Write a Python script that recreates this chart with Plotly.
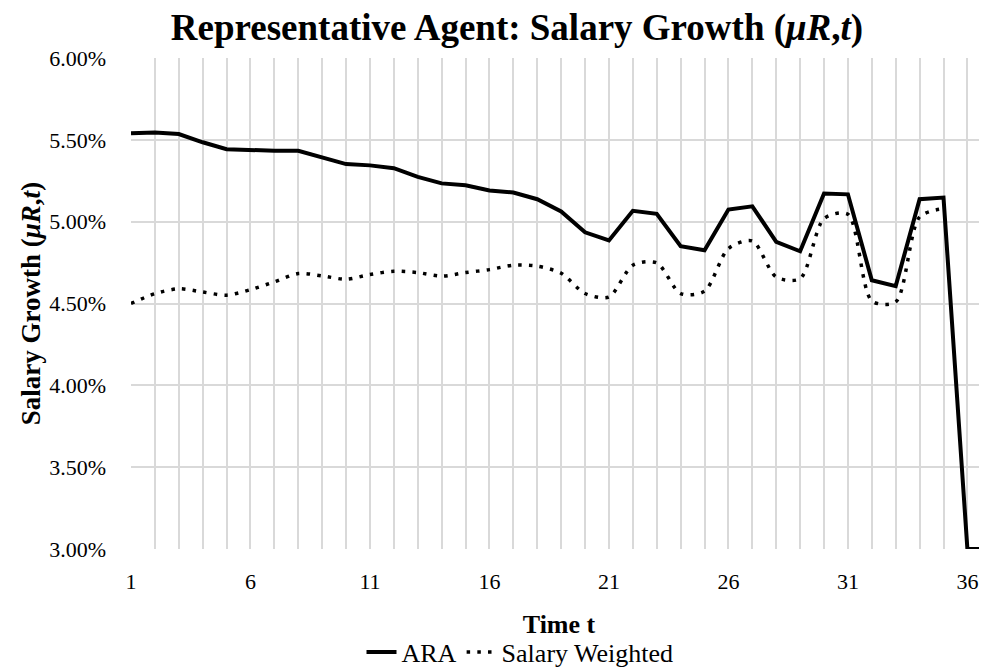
import plotly.graph_objects as go

time_t = list(range(1, 38))
ara = [5.540, 5.545, 5.535, 5.485, 5.443, 5.437, 5.433, 5.433, 5.393, 5.352,
       5.344, 5.327, 5.274, 5.234, 5.222, 5.190, 5.178, 5.137, 5.062, 4.935,
       4.885, 5.066, 5.048, 4.850, 4.825, 5.074, 5.094, 4.876, 4.819, 5.172,
       5.167, 4.642, 4.606, 5.137, 5.147, 3.000, 3.000]
salary_weighted = [4.500, 4.560, 4.590, 4.570, 4.551, 4.585, 4.632, 4.683, 4.669, 4.648,
                   4.677, 4.697, 4.689, 4.667, 4.689, 4.707, 4.734, 4.728, 4.685, 4.561,
                   4.540, 4.734, 4.748, 4.561, 4.575, 4.836, 4.882, 4.662, 4.652, 5.019,
                   5.045, 4.516, 4.510, 5.029, 5.080]
x_ticks = [1, 6, 11, 16, 21, 26, 31, 36]
y_ticks = [0.030, 0.035, 0.040, 0.045, 0.050, 0.055, 0.060]

FONT = "Liberation Serif"
GRID = "#d9d9d9"

fig = go.Figure()
fig.add_trace(go.Scatter(
    x=time_t[:len(salary_weighted)], y=[v / 100 for v in salary_weighted], name="Salary Weighted",
    mode="lines", line=dict(color="black", width=3.5, dash="3.5px,7.2px", shape="spline", smoothing=0.8),
))
fig.add_trace(go.Scatter(
    x=time_t, y=[v / 100 for v in ara], name="ARA",
    mode="lines", line=dict(color="black", width=4),
))

# page body has an 8px margin, so the figure is offset by 8px on screen
W, H = 979, 662
ml, mr, mt, mb = 123, 0, 50, 121
PW, PH = W - ml - mr, H - mt - mb
fig.update_layout(
    width=W, height=H,
    margin=dict(l=ml, r=mr, t=mt, b=mb, autoexpand=False),
    paper_bgcolor="white", plot_bgcolor="white",
    font=dict(family=FONT, color="#000000", size=22),
    title=dict(
        text="<b>Representative Agent: Salary Growth (<i>μR</i>,<i>t</i>)</b>",
        x=509 / W, xanchor="center", y=1 - 19 / H, yanchor="middle",
        font=dict(family=FONT, size=37, color="#000000"),
    ),
    showlegend=True,
    legend=dict(
        orientation="h", x=(512 - ml) / PW, xanchor="center",
        y=(541 - 644) / PH, yanchor="middle", traceorder="reversed",
        font=dict(family=FONT, size=26, color="#000000"),
        bgcolor="rgba(0,0,0,0)",
    ),
    xaxis=dict(
        range=[1, 36.82], tickvals=x_ticks, ticktext=[str(v) for v in x_ticks],
        showgrid=True, gridcolor=GRID, gridwidth=1.5,
        minor=dict(dtick=1, tick0=1, showgrid=True, gridcolor=GRID, gridwidth=1.5),
        zeroline=False, showline=False, ticks="", ticklabelstandoff=17, automargin=False,
        tickfont=dict(family=FONT, size=22),
        title=dict(text="<b>Time t</b>", font=dict(family=FONT, size=26), standoff=21),
    ),
    yaxis=dict(
        range=[0.030, 0.060], tickvals=y_ticks, tickformat=".2%",
        showgrid=True, gridcolor=GRID, gridwidth=1.5,
        zeroline=False, showline=False, ticks="", ticklabelstandoff=24, automargin=False,
        tickfont=dict(family=FONT, size=22),
        title=dict(text="<b>Salary Growth (<i>μR</i>,<i>t</i>)</b>", font=dict(family=FONT, size=27), standoff=0),
    ),
)

fig.write_html("out.html")
